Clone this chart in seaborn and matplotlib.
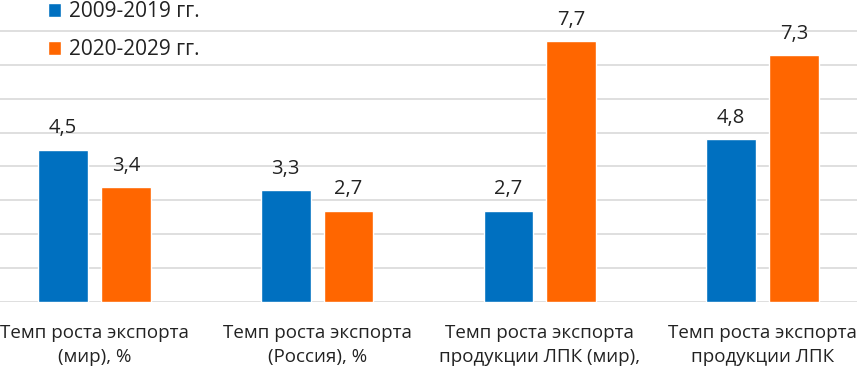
import seaborn as sns
import pandas as pd
import matplotlib.pyplot as plt

categories = ["Темп роста экспорта\n(мир), %",
              "Темп роста экспорта\n(Россия), %",
              "Темп роста экспорта\nпродукции ЛПК (мир),",
              "Темп роста экспорта\nпродукции ЛПК"]
series = ["2009-2019 гг.", "2020-2029 гг."]
values_2009 = [4.5, 3.3, 2.7, 4.8]
values_2020 = [3.4, 2.7, 7.7, 7.3]
colors = ["#0070C0", "#FF6600"]

df = pd.DataFrame({
    "cat": categories * 2,
    "period": [series[0]] * 4 + [series[1]] * 4,
    "value": values_2009 + values_2020,
})

sns.set_style("white")
plt.rcParams['font.family'] = ['Open Sans', 'DejaVu Sans']

fig = plt.figure(figsize=(8.57, 3.69), dpi=100)
ax = fig.add_axes([-0.0198, 0.1816, 1.0396, 0.8264])

sns.barplot(df, x="cat", y="value", hue="period", palette=colors,
            width=0.564, gap=0.206, saturation=1, ax=ax, zorder=3)

for c in ax.containers:
    ax.bar_label(c, labels=[f"{v:.1f}".replace(".", ",") for v in c.datavalues],
                 padding=8, fontsize=14.5, color="#222222")

ax.set_ylim(0, 9)
ax.set_yticks(range(0, 10))
ax.yaxis.grid(True, color="#D9D9D9", linewidth=1.2, zorder=0)
ax.set_yticklabels([])
ax.tick_params(axis="y", length=0)
ax.tick_params(axis="x", length=0, labelsize=13.5, pad=16, labelcolor="#222222")
for t in ax.get_xticklabels():
    t.set_linespacing(1.42)
ax.set_xlabel("")
ax.set_ylabel("")
for s in ax.spines.values():
    s.set_visible(False)

leg = ax.legend(loc="upper left", bbox_to_anchor=(0.052, 1.047), frameon=False,
                fontsize=15, handlelength=0.62, handleheight=0.62,
                handletextpad=0.4, labelspacing=0.8)
for t in leg.get_texts():
    t.set_color("#222222")

fig.savefig("out.png", dpi=100)
